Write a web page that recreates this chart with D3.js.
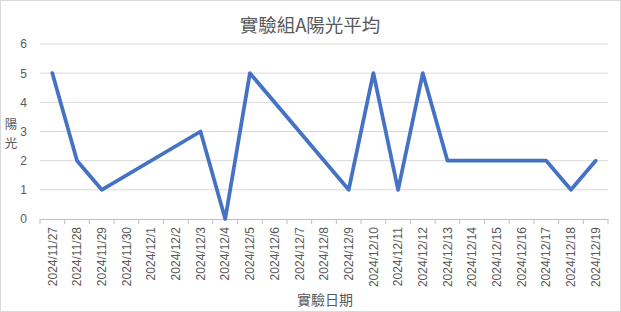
<!DOCTYPE html>
<html><head><meta charset="utf-8">
<script src="https://cdn.jsdelivr.net/npm/d3@7"></script>
<style>
html,body{margin:0;padding:0;background:#fff;}
svg{display:block;}
</style></head>
<body>
<script>
const title = "實驗組A陽光平均";
const yTitle = ["陽","光"];
const xTitle = "實驗日期";
const categories = ["2024/11/27","2024/11/28","2024/11/29","2024/11/30","2024/12/1","2024/12/2","2024/12/3","2024/12/4","2024/12/5","2024/12/6","2024/12/7","2024/12/8","2024/12/9","2024/12/10","2024/12/11","2024/12/12","2024/12/13","2024/12/14","2024/12/15","2024/12/16","2024/12/17","2024/12/18","2024/12/19"];
const values = [5,2,1,null,null,null,3,0,5,null,null,null,1,5,1,5,2,2,2,2,2,1,2];
const yTicks = [0,1,2,3,4,5,6];

const W = 621, H = 312;
const m = {left:40, right:13, top:44, bottom:93};
const svg = d3.select("body").append("svg").attr("width",W).attr("height",H);
svg.append("rect").attr("x",0.5).attr("y",0.5).attr("width",W-1).attr("height",H-1)
  .attr("fill","#fff").attr("stroke","#d9d9d9");

const x = d3.scaleBand().domain(categories).range([m.left, W-m.right]);
const y = d3.scaleLinear().domain([0,6]).range([H-m.bottom, m.top]);
const font = "'Liberation Sans', Arial, sans-serif";

// gridlines
svg.append("g").selectAll("line").data(yTicks.filter(d=>d>0)).join("line")
  .attr("x1",m.left).attr("x2",W-m.right)
  .attr("y1",d=>y(d)).attr("y2",d=>y(d))
  .attr("stroke","#d9d9d9").attr("stroke-width",1);

// y axis labels
const ya = svg.append("g").attr("transform",`translate(${m.left},0)`)
  .call(d3.axisLeft(y).tickValues(yTicks).tickFormat(d3.format("d")).tickSize(0).tickPadding(13));
ya.select(".domain").remove();
ya.selectAll("text").attr("font-family",font).attr("font-size",12).attr("fill","#595959");

// x axis
const xa = svg.append("g").attr("transform",`translate(0,${H-m.bottom})`)
  .call(d3.axisBottom(x).tickSize(0));
xa.select(".domain").attr("stroke","#bfbfbf");
xa.selectAll(".tick line").remove();
const bounds = categories.map(c=>x(c)).concat([x(categories[categories.length-1])+x.bandwidth()]);
xa.append("g").selectAll("line").data(bounds).join("line")
  .attr("x1",d=>d).attr("x2",d=>d).attr("y1",0).attr("y2",5)
  .attr("stroke","#bfbfbf");
xa.selectAll(".tick text")
  .attr("font-family",font).attr("font-size",12).attr("fill","#595959")
  .attr("transform","rotate(-90)")
  .attr("text-anchor","end")
  .attr("x",-8).attr("y",0).attr("dy","0.35em");

// line
const pts = categories.map((c,i)=>({c, v:values[i]})).filter(d=>d.v!==null);
const line = d3.line().x(d=>x(d.c)+x.bandwidth()/2).y(d=>y(d.v));
svg.append("path").datum(pts).attr("d",line)
  .attr("fill","none").attr("stroke","#4472C4").attr("stroke-width",3.75)
  .attr("stroke-linejoin","round").attr("stroke-linecap","round");

// title
svg.append("text").attr("x",310).attr("y",32).attr("text-anchor","middle")
  .attr("font-family","'Noto Sans CJK TC', sans-serif").attr("font-size",18.5)
  .attr("fill","#595959").text(title);

// y title stacked
svg.append("g").selectAll("text").data(yTitle).join("text")
  .attr("x",11).attr("y",(d,i)=>129+i*19).attr("text-anchor","middle")
  .attr("font-family","'Noto Sans CJK TC', sans-serif").attr("font-size",12.5)
  .attr("fill","#595959").text(d=>d);

// x title
svg.append("text").attr("x",325).attr("y",305).attr("text-anchor","middle")
  .attr("font-family","'Noto Sans CJK TC', sans-serif").attr("font-size",14)
  .attr("fill","#595959").text(xTitle);
</script>
</body></html>
